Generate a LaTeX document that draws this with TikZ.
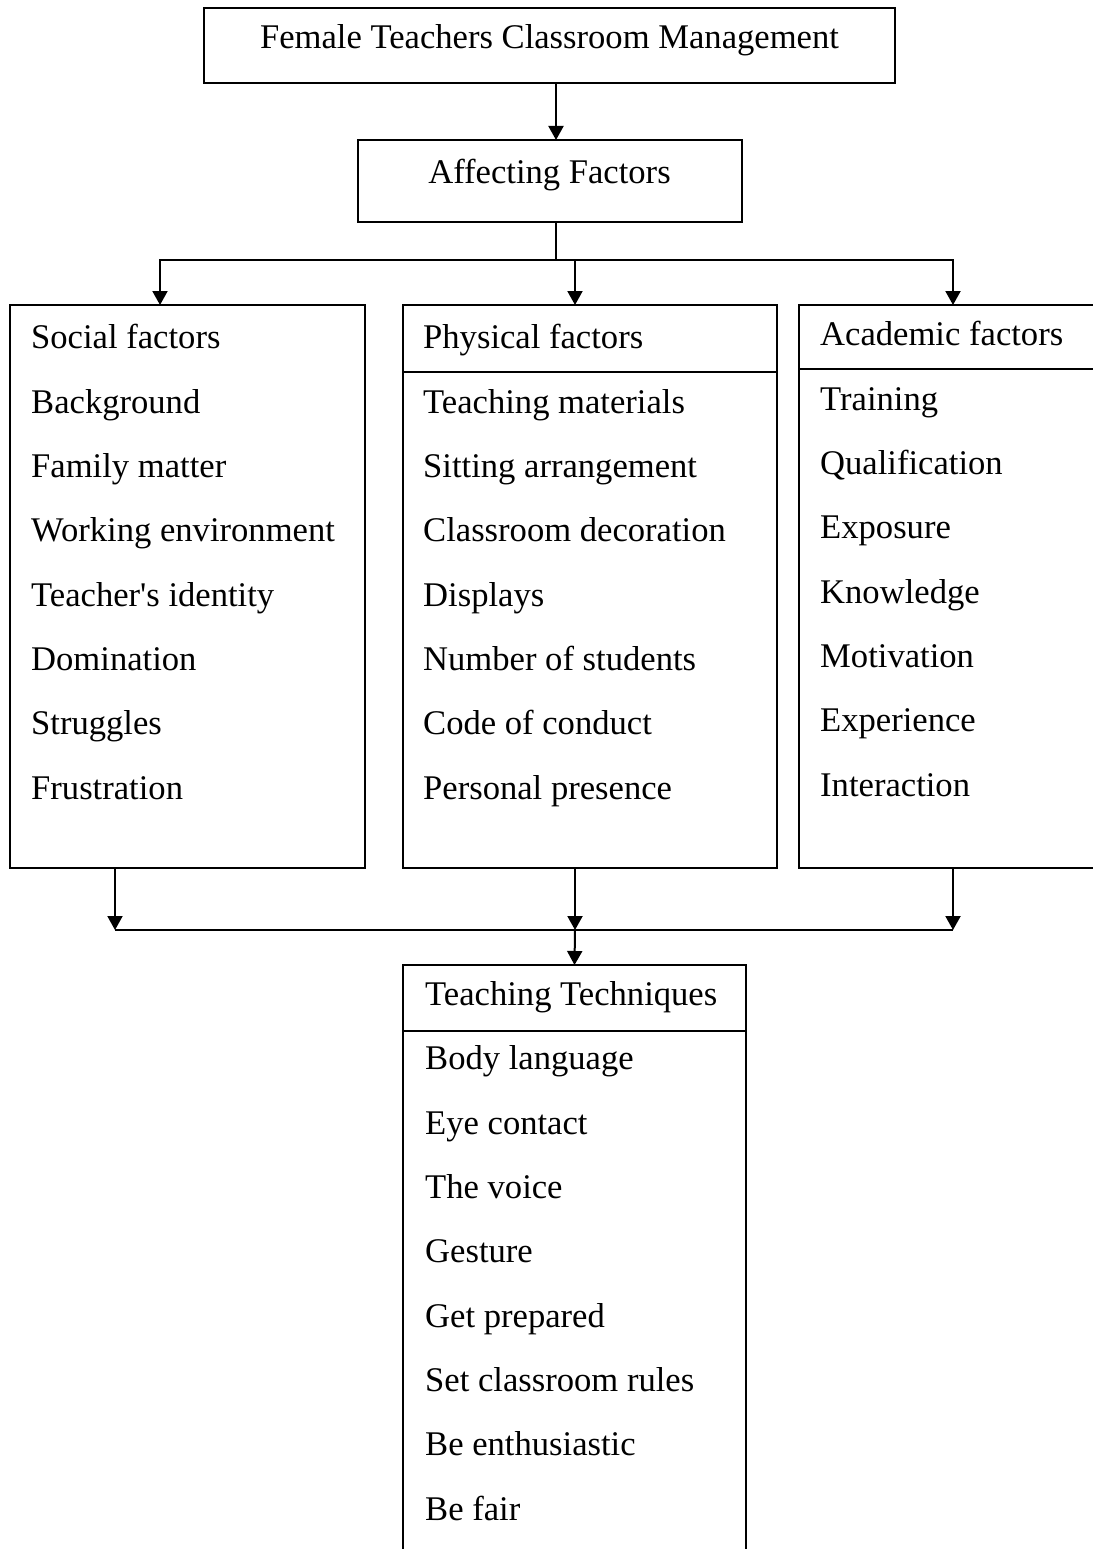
\documentclass[tikz,border=0pt]{standalone}
\usepackage{fontspec}
\setmainfont{Liberation Serif}
\usepackage{tikz}
\usetikzlibrary{positioning,calc,arrows.meta}

\begin{document}
\begin{tikzpicture}[
    x=1pt, y=-1pt,
    every node/.style={font=\fontsize{34.6}{64.3}\selectfont},
    box/.style={rectangle, draw, line width=2pt, inner sep=0pt, outer sep=0pt},
    headbox/.style={box, text height=24pt, text depth=18pt},
    factor/.style={box, minimum width=#1, minimum height=563pt},
    items/.style={align=left, inner sep=0pt, anchor=north west},
    line/.style={line width=2pt},
    arrow/.style={line, -{Triangle[length=14pt, width=15pt]}}
  ]
    \useasboundingbox (0,0) rectangle (1092,1549);

    \node[headbox, minimum width=691pt, minimum height=75pt] (title) at (549.5,45.5) {Female Teachers Classroom Management};
    \node[headbox, minimum width=384pt, minimum height=82pt, below=57pt of title] (affect) {Affecting Factors};

    \node[factor=374pt, below=83pt of affect, xshift=40.5pt] (physical) {};
    \node[factor=355pt, left=38pt of physical] (social) {};
    \node[factor=308pt, right=22pt of physical] (academic) {};
    \node[box, minimum width=343pt, minimum height=595pt, below=97pt of physical, xshift=-15.5pt] (teaching) {};

    % header rules
    \draw[line] ([yshift=-67pt]physical.north west) -- ([yshift=-67pt]physical.north east);
    \draw[line] ([yshift=-64pt]academic.north west) -- ([yshift=-64pt]academic.north east);
    \draw[line] ([yshift=-66pt]teaching.north west) -- ([yshift=-66pt]teaching.north east);

    \node[items] (socialitems) at ([xshift=21pt, yshift=-19.4pt]social.north west) {Social factors\\Background\\Family matter\\Working environment\\Teacher\textquotesingle s identity\\Domination\\Struggles\\Frustration};
    \node[items] (physicalitems) at ([xshift=20pt, yshift=-19.4pt]physical.north west) {Physical factors\\Teaching materials\\Sitting arrangement\\Classroom decoration\\Displays\\Number of students\\Code of conduct\\Personal presence};
    \node[items] (academicitems) at ([xshift=21pt, yshift=-16.4pt]academic.north west) {Academic factors\\Training\\Qualification\\Exposure\\Knowledge\\Motivation\\Experience\\Interaction};
    \node[items] (teachingitems) at ([xshift=22pt, yshift=-16.4pt]teaching.north west) {Teaching Techniques\\Body language\\Eye contact\\The voice\\Gesture\\Get prepared\\Set classroom rules\\Be enthusiastic\\Be fair};

    \coordinate (split) at (556,260);
    \coordinate (merge) at (575,930);

    \draw[arrow] (title.south -| split) -- (affect.north -| split);
    \draw[line] (affect.south -| split) -- (split);
    \draw[arrow] (split) -| ([xshift=-27.5pt]social.north);
    \draw[arrow] (split) -| ([xshift=-15pt]physical.north);
    \draw[arrow] (split) -| (academic.north);

    \draw[arrow] ([xshift=-72.5pt]social.south) -- ([xshift=-72.5pt]social.south |- merge);
    \draw[arrow] ([xshift=-15pt]physical.south) -- (merge);
    \draw[arrow] (academic.south) -- (academic.south |- merge);
    \draw[line] ([xshift=-72.5pt]social.south |- merge) -- (academic.south |- merge);
    \draw[arrow] (merge) -- (teaching.north);
  \end{tikzpicture}
\end{document}
